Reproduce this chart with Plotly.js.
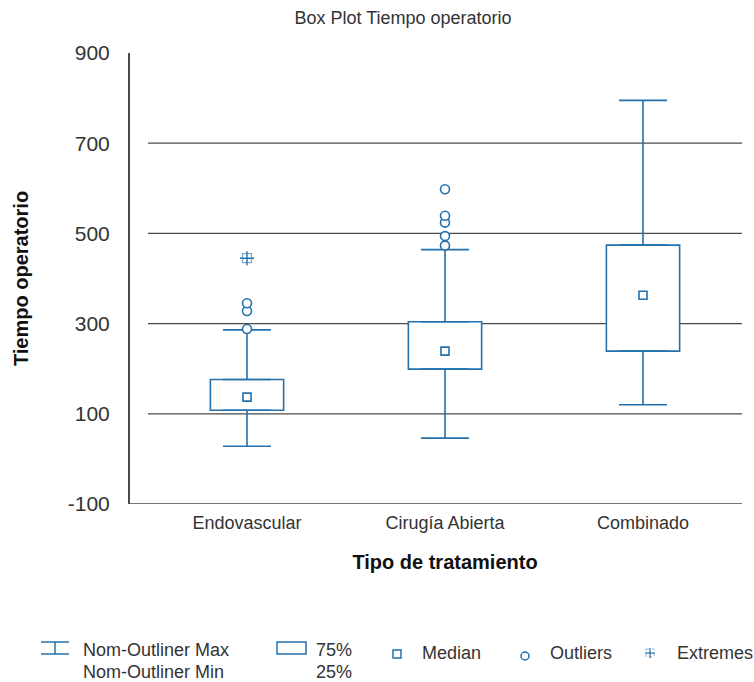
<!DOCTYPE html>
<html>
<head>
<meta charset="utf-8">
<script src="https://cdn.plot.ly/plotly-3.0.1.min.js"></script>
<style>html,body{margin:0;padding:0;background:#fff;}#chart{width:754px;height:682px;}</style>
</head>
<body>
<div id="chart"></div>
<script>
// ---- data ----
const categories   = ['Endovascular', 'Cirugía Abierta', 'Combinado'];
const q1           = [108, 199, 239];   // 25%
const q3           = [176, 304, 474];   // 75%
const medians      = [137, 239, 363];
const whiskerMin   = [28, 46, 120];     // Nom-Outliner Min
const whiskerMax   = [286, 464, 795];   // Nom-Outliner Max
const outlierCat   = ['Endovascular', 'Endovascular', 'Endovascular',
                      'Cirugía Abierta', 'Cirugía Abierta', 'Cirugía Abierta', 'Cirugía Abierta', 'Cirugía Abierta'];
const outlierVal   = [288, 328, 345, 473, 494, 524, 539, 598];
const extremeCat   = ['Endovascular'];
const extremeVal   = [445];
const yTicks       = [-100, 100, 300, 500, 700, 900];
const gridTicks    = [100, 300, 500, 700];

const BLUE = '#2371ad';
const TXT = '#333333';
const FONT = 'Liberation Sans, Arial, Helvetica, sans-serif';

// pixel helpers for layout-only positioning (plot area: x 128..742, y 53..504)
const PL = 128, PR = 742, PT = 53, PB = 504;
const px = x => (x - PL) / (PR - PL);
const py = y => (PB - y) / (PB - PT);

const traces = [
  { // boxes 25%..75%
    type: 'bar', x: categories, base: q1,
    y: q3.map((v, i) => v - q1[i]),
    width: 0.37,
    marker: { color: '#ffffff', line: { color: BLUE, width: 1.6 } },
    hoverinfo: 'skip', showlegend: false
  },
  { // upper whiskers
    type: 'scatter', mode: 'markers', x: categories, y: q3,
    marker: { size: 1, color: 'rgba(0,0,0,0)' },
    error_y: { type: 'data', symmetric: false,
      array: whiskerMax.map((v, i) => v - q3[i]), arrayminus: q3.map(() => 0),
      color: BLUE, thickness: 1.6, width: 24 },
    showlegend: false
  },
  { // lower whiskers
    type: 'scatter', mode: 'markers', x: categories, y: q1,
    marker: { size: 1, color: 'rgba(0,0,0,0)' },
    error_y: { type: 'data', symmetric: false,
      array: q1.map(() => 0), arrayminus: q1.map((v, i) => v - whiskerMin[i]),
      color: BLUE, thickness: 1.6, width: 24 },
    showlegend: false
  },
  { // medians
    type: 'scatter', mode: 'markers', x: categories, y: medians,
    marker: { symbol: 'square', size: 8, color: '#ffffff', line: { color: BLUE, width: 1.6 } },
    showlegend: false
  },
  { // outliers
    type: 'scatter', mode: 'markers', x: outlierCat, y: outlierVal,
    marker: { symbol: 'circle', size: 9, color: '#ffffff', line: { color: BLUE, width: 1.6 } },
    showlegend: false
  },
  { // extremes (dotted frame)
    type: 'scatter', mode: 'markers', x: extremeCat, y: extremeVal,
    marker: { symbol: 'square-open', size: 9, color: 'rgba(35,113,173,0.6)', line: { width: 1.2 } },
    showlegend: false
  },
  { // extremes (cross)
    type: 'scatter', mode: 'markers', x: extremeCat, y: extremeVal,
    marker: { symbol: 'cross-thin-open', size: 10, color: BLUE, line: { width: 1.4, color: BLUE } },
    showlegend: false
  }
];

const shapes = [
  // horizontal gridlines (only inside, spanning the category domain)
  ...gridTicks.map(v => ({ type: 'line', xref: 'x domain', x0: 0, x1: 1, yref: 'y', y0: v, y1: v,
    line: { color: '#4a4a4a', width: 1.3 }, layer: 'below' })),
  // bottom axis line at -100 spanning full plot width
  { type: 'line', xref: 'paper', x0: 0, x1: 1, yref: 'y', y0: yTicks[0], y1: yTicks[0],
    line: { color: '#4a4a4a', width: 1.5 }, layer: 'below' },
  // legend: whisker icon
  { type: 'line', xref: 'paper', yref: 'paper', x0: px(41), x1: px(69), y0: py(642), y1: py(642), line: { color: BLUE, width: 1.5 } },
  { type: 'line', xref: 'paper', yref: 'paper', x0: px(41), x1: px(69), y0: py(654), y1: py(654), line: { color: BLUE, width: 1.5 } },
  { type: 'line', xref: 'paper', yref: 'paper', x0: px(55), x1: px(55), y0: py(642), y1: py(654), line: { color: BLUE, width: 1.5 } },
  // legend: box icon
  { type: 'rect', xref: 'paper', yref: 'paper', x0: px(277), x1: px(306), y0: py(642), y1: py(654), line: { color: BLUE, width: 1.5 } },
  // legend: median icon
  { type: 'rect', xref: 'paper', yref: 'paper', x0: px(393), x1: px(401), y0: py(650), y1: py(658), line: { color: BLUE, width: 1.5 } },
  // legend: outlier icon
  { type: 'circle', xref: 'paper', yref: 'paper', x0: px(521), x1: px(529), y0: py(652), y1: py(660), line: { color: BLUE, width: 1.5 } },
  // legend: extreme icon
  { type: 'line', xref: 'paper', yref: 'paper', x0: px(645), x1: px(655), y0: py(653), y1: py(653), line: { color: BLUE, width: 1.2 } },
  { type: 'line', xref: 'paper', yref: 'paper', x0: px(650), x1: px(650), y0: py(648), y1: py(658), line: { color: BLUE, width: 1.2 } },
  { type: 'rect', xref: 'paper', yref: 'paper', x0: px(646), x1: px(654), y0: py(649), y1: py(657), line: { color: 'rgba(35,113,173,0.5)', width: 1, dash: 'dot' } }
];

const ann = (text, x, y) => ({ text, xref: 'paper', yref: 'paper', x: px(x), y: py(y),
  xanchor: 'left', yanchor: 'middle', showarrow: false, font: { family: FONT, size: 18, color: TXT } });

const annotations = [
  ann('Nom-Outliner Max', 81, 650),
  ann('Nom-Outliner Min', 81, 672),
  ann('75%', 314, 650),
  ann('25%', 314, 672),
  ann('Median', 420, 653),
  ann('Outliers', 548, 653),
  ann('Extremes', 675, 653)
];

const layout = {
  width: 754, height: 682,
  paper_bgcolor: '#ffffff', plot_bgcolor: 'rgba(0,0,0,0)',
  margin: { l: PL, r: 754 - PR, t: PT, b: 682 - PB, pad: 0 },
  font: { family: FONT, color: TXT },
  title: { text: 'Box Plot Tiempo operatorio', font: { family: FONT, size: 18, color: TXT },
    xref: 'container', yref: 'container', x: 403 / 754, xanchor: 'center', y: 1 - 18 / 682, yanchor: 'middle' },
  showlegend: false,
  bargap: 0,
  xaxis: {
    type: 'category', domain: [px(148), 1], range: [-0.5, 2.5],
    showgrid: false, zeroline: false, showline: false, ticks: '',
    tickfont: { family: FONT, size: 18, color: TXT }, ticklabelstandoff: 6,
    title: { text: 'Tipo de tratamiento', font: { family: FONT, size: 20, color: '#111', weight: 700 }, standoff: 22 }
  },
  yaxis: {
    range: [-100, 900], tickvals: yTicks, ticktext: yTicks.map(String),
    anchor: 'free', position: 0,
    showgrid: false, zeroline: false, showline: true, linecolor: '#4a4a4a', linewidth: 1.5,
    ticks: '', tickfont: { family: FONT, size: 21, color: TXT }, ticklabelstandoff: 14,
    title: { text: 'Tiempo operatorio', font: { family: FONT, size: 20, color: '#111', weight: 700 }, standoff: 32 }
  },
  shapes, annotations
};

Plotly.newPlot('chart', traces, layout, { staticPlot: true, displayModeBar: false });
</script>
</body>
</html>
